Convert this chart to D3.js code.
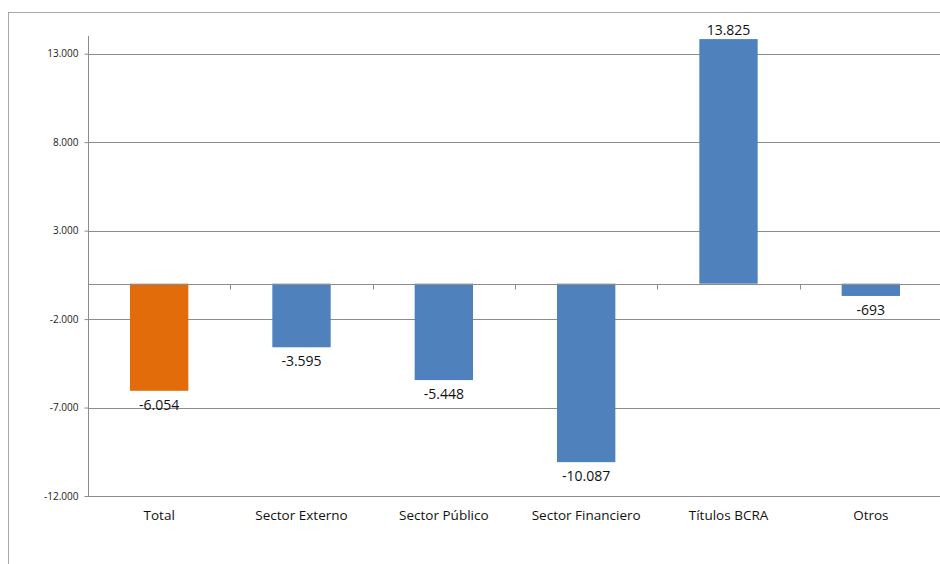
<!DOCTYPE html>
<html>
<head>
<meta charset="utf-8">
<script src="https://cdn.jsdelivr.net/npm/d3@7"></script>
<style>
  html, body { margin: 0; padding: 0; background: #fff; }
  svg { display: block; font-family: "Open Sans", "Noto Sans", sans-serif; }
</style>
</head>
<body>
<svg id="chart" width="940" height="564"></svg>
<script>
// Variación por factor (millones)
const categories = ["Total", "Sector Externo", "Sector Público", "Sector Financiero", "Títulos BCRA", "Otros"];
const values = [-6054, -3595, -5448, -10087, 13825, -693];
const barColors = ["#E36C0A", "#4F81BD", "#4F81BD", "#4F81BD", "#4F81BD", "#4F81BD"];
const yTicks = [-12000, -7000, -2000, 3000, 8000, 13000];

const esAR = d3.formatLocale({ decimal: ",", thousands: ".", grouping: [3], currency: ["$", ""], minus: "-" });
const fmt = esAR.format(",d");

const svg = d3.select("#chart");
const plot = { left: 88, right: 942, top: 36, bottom: 496 };

// outer frame
svg.append("rect")
  .attr("x", 8.5).attr("y", 12.5)
  .attr("width", 960).attr("height", 600)
  .attr("fill", "none").attr("stroke", "#a6a6a6").attr("stroke-width", 1);

const x = d3.scaleBand().domain(categories).range([plot.left, plot.right]).paddingInner(0.59).paddingOuter(0.295);
const xOuter = d3.scaleBand().domain(categories).range([plot.left, plot.right]);
const y = d3.scaleLinear().domain([-12000, 14000]).range([plot.bottom, plot.top]);

// horizontal gridlines
svg.append("g")
  .selectAll("line").data(yTicks).join("line")
  .attr("x1", plot.left).attr("x2", plot.right)
  .attr("y1", d => Math.round(y(d)) + 0.5).attr("y2", d => Math.round(y(d)) + 0.5)
  .attr("stroke", "#8c8c8c").attr("stroke-width", 1);

// y axis
const yAxis = d3.axisLeft(y).tickValues(yTicks).tickSize(4).tickFormat(d => fmt(d));
const gy = svg.append("g").attr("transform", `translate(${plot.left + 0.5},0)`).call(yAxis);
gy.select(".domain").attr("stroke", "#8c8c8c").attr("d", `M0,${plot.top}V${plot.bottom}`);
gy.selectAll(".tick line").attr("stroke", "#8c8c8c");
gy.selectAll(".tick text").attr("fill", "#1a1a1a").attr("font-size", 10).attr("x", -10)
  .attr("font-family", "'Open Sans', 'Noto Sans', sans-serif");

// bars
svg.append("g")
  .selectAll("rect").data(values).join("rect")
  .attr("x", (d, i) => x(categories[i]))
  .attr("width", x.bandwidth())
  .attr("y", d => y(Math.max(0, d)))
  .attr("height", d => Math.abs(y(d) - y(0)))
  .attr("fill", (d, i) => barColors[i]);

// category axis along zero
const zeroY = Math.round(y(0)) + 0.5;
svg.append("line")
  .attr("x1", plot.left).attr("x2", plot.right)
  .attr("y1", zeroY).attr("y2", zeroY)
  .attr("stroke", "#8c8c8c").attr("stroke-width", 1);
svg.append("g")
  .selectAll("line").data(categories.slice(1)).join("line")
  .attr("x1", d => Math.round(xOuter(d)) + 0.5).attr("x2", d => Math.round(xOuter(d)) + 0.5)
  .attr("y1", zeroY).attr("y2", zeroY + 5)
  .attr("stroke", "#8c8c8c");

// value labels
svg.append("g")
  .selectAll("text").data(values).join("text")
  .attr("x", (d, i) => x(categories[i]) + x.bandwidth() / 2)
  .attr("y", d => d >= 0 ? y(d) - 4 : y(d) + 19)
  .attr("text-anchor", "middle")
  .attr("font-size", 14).attr("fill", "#111")
  .text(d => fmt(d));

// category labels
svg.append("g")
  .selectAll("text").data(categories).join("text")
  .attr("x", d => xOuter(d) + xOuter.bandwidth() / 2)
  .attr("y", 520)
  .attr("text-anchor", "middle")
  .attr("font-size", 13.5).attr("fill", "#111")
  .text(d => d);
</script>
</body>
</html>
